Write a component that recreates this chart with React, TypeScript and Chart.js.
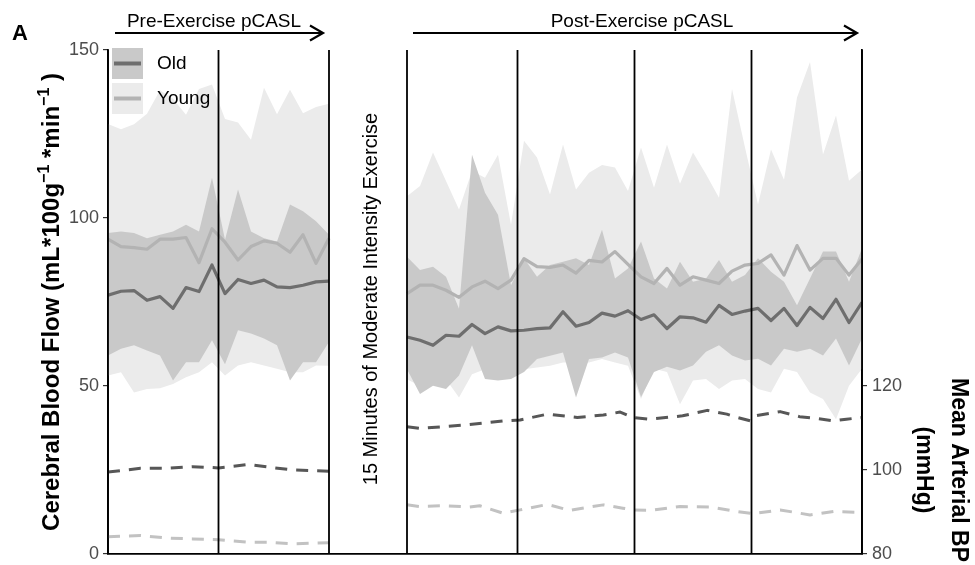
import { useEffect, useRef } from "react";
import { Chart, registerables } from "chart.js";

Chart.register(...registerables);

const FONT = '"Liberation Sans", Arial, Helvetica, sans-serif';

// ---- time axis (scan index) ----
const preTime = [0, 1, 2, 3, 4, 5, 6, 7, 8, 9, 10, 11, 12, 13, 14, 15, 16, 17];
const postTime = [23, 24, 25, 26, 27, 28, 29, 30, 31, 32, 33, 34, 35, 36, 37, 38, 39, 40, 41, 42, 43, 44, 45, 46, 47, 48, 49, 50, 51, 52, 53, 54, 55, 56, 57, 58];
const gapTime = 20;
const timeRange = [0, 58];
const sectionBounds = [0, 8.5, 17, 23, 31.5, 40.5, 49.5, 58];

// ---- tick labels ----
const cbfTicks = [0, 50, 100, 150];
const mapTicks = [80, 100, 120];
const cbfRange = [0, 150];
const mapRange = [80, 200];

// ---- CBF (mL/100g/min), pre-exercise ----
const youngMeanPre = [93.7, 91.5, 91.2, 90.7, 93.7, 93.7, 94.2, 86.7, 96.8, 92.8, 87.5, 91.5, 93.2, 92.5, 89.8, 95.0, 86.5, 94.0];
const youngHiPre = [128, 126.4, 127.9, 131, 138, 135.5, 130.7, 138.4, 139.7, 129.5, 128.4, 123.3, 138.8, 130.9, 138.2, 131.2, 133, 134];
const youngLoPre = [53.1, 54.1, 48.1, 49.1, 49.3, 50.6, 52.6, 54.1, 57.1, 53.1, 56.1, 57.1, 56.1, 55.1, 54.1, 54.1, 56.1, 56.0];
const oldMeanPre = [77.0, 78.2, 78.4, 75.5, 76.6, 73.1, 79.3, 78.1, 86.0, 77.5, 81.7, 80.5, 81.5, 79.5, 79.3, 80.0, 81.0, 81.2];
const oldHiPre = [95.5, 96.0, 95.5, 94.0, 95.0, 96.0, 98.0, 96.0, 112.0, 93.5, 108.5, 96.0, 94.0, 93.0, 104.0, 102.0, 99.0, 95.0];
const oldLoPre = [59.1, 61.1, 62.1, 60.6, 59.1, 51.6, 57.1, 57.1, 63.6, 56.5, 66.6, 65.6, 64.1, 62.1, 51.6, 57.1, 57.1, 63.1];

// ---- CBF, post-exercise ----
const youngMeanPost = [77.5, 80.0, 80.0, 78.5, 76.4, 79.5, 81.2, 79.0, 81.5, 87.9, 85.5, 85.3, 86.0, 83.6, 87.4, 86.9, 90.0, 86.2, 82.5, 80.5, 85.0, 80.0, 82.5, 81.5, 80.5, 84.2, 86.0, 86.5, 89.0, 83.0, 91.8, 84.5, 88.0, 88.0, 83.0, 87.8];
const youngHiPost = [106.5, 109.5, 119.5, 111.0, 102.5, 114.0, 112.0, 118.8, 98.0, 123.0, 118.0, 107.0, 121.9, 108.5, 113.5, 115.8, 115.0, 108.0, 121.0, 109.0, 121.9, 110.2, 119.5, 113.0, 106.0, 138.4, 121.0, 104.0, 120.4, 111.4, 135.9, 146.4, 118.9, 130.5, 111.1, 114.4];
const youngLoPost = [52, 50, 55, 52, 46.6, 53.5, 55, 53, 53, 55, 55.5, 56, 57, 57, 57, 58, 57, 56, 46.1, 55.1, 54.2, 44.6, 51.6, 52.1, 49.1, 51.6, 52.1, 49.1, 48.1, 55.1, 54.2, 48.1, 46.1, 40.1, 50.1, 55.1];
const oldMeanPost = [64.6, 63.6, 62.1, 65.1, 64.8, 68.3, 65.6, 67.6, 66.4, 66.6, 67.1, 67.3, 72.1, 67.8, 68.9, 71.7, 70.8, 72.4, 69.8, 71.2, 67.1, 70.6, 70.3, 69.0, 74.0, 71.3, 72.3, 73.1, 69.5, 73.1, 68.0, 73.4, 70.1, 75.8, 68.9, 74.9];
const oldHiPost = [88.5, 84.5, 85.5, 82.5, 73.0, 118.8, 107.5, 101.0, 80.0, 88.0, 82.5, 86.0, 87.0, 88.0, 86.0, 96.5, 82.0, 85.0, 93.0, 82.0, 79.0, 87.0, 81.0, 82.0, 87.5, 81.0, 83.0, 88.0, 84.0, 81.0, 74.0, 82.0, 90.0, 90.0, 81.0, 91.0];
const oldLoPost = [55, 47.6, 50.1, 49.1, 53.1, 62.1, 52.1, 51.6, 52.1, 54.2, 58, 59, 60, 46.6, 58, 58.5, 60, 58.5, 46.7, 54.2, 55.7, 54.6, 56.1, 60.2, 62.1, 59.1, 57.6, 58.1, 56.1, 61.1, 60.2, 61.1, 59.1, 64.1, 56.1, 64.1];

// ---- Mean arterial BP (mmHg) ----
const mapPreTime = [0, 2.5, 4.5, 6.5, 8.5, 10.8, 12.3, 14.2, 17];
const mapOldPre = [99.5, 100.4, 100.4, 100.8, 100.5, 101.3, 100.7, 100.0, 99.7];
const mapYoungPre = [84.1, 84.4, 83.8, 83.6, 83.4, 82.8, 82.8, 82.4, 82.7];
const mapOldPostTime = [23, 24, 25.8, 27.8, 30.4, 31.7, 33.8, 36.1, 38.1, 39.4, 40.4, 41.7, 44.2, 46.1, 47.6, 48.4, 49.4, 49.8, 51.7, 53.2, 54.5, 55.8, 56.8, 58];
const mapOldPost = [110.3, 109.9, 110.3, 110.8, 111.7, 111.9, 113.3, 112.5, 113.1, 113.8, 112.5, 112.1, 112.9, 114.2, 113.3, 112.5, 111.7, 112.9, 113.9, 112.7, 112.3, 111.7, 112.1, 112.5];
const mapYoungPostTime = [23, 24, 25.8, 27.8, 28.6, 30.4, 31.7, 33.8, 35.5, 38.1, 39.6, 40.4, 41.7, 44, 46.3, 48.4, 49.6, 51.7, 54, 55.8, 58];
const mapYoungPost = [91.7, 91.3, 91.5, 91.2, 91.5, 89.7, 90.5, 91.8, 90.4, 91.7, 90.9, 90.5, 90.4, 91.3, 91.2, 90.1, 89.6, 90.5, 89.3, 90.1, 89.9];

// ---- colours ----
const YOUNG_FILL = "#ebebeb";
const OLD_FILL = "#c9c9c9";
const YOUNG_LINE = "#b3b3b3";
const OLD_LINE = "#6e6e6e";
const YOUNG_MAP = "#c2c2c2";
const OLD_MAP = "#575757";
const CLEAR = "rgba(0,0,0,0)";

type P = { x: number; y: number | null };
const pts = (xs: number[], ys: number[]): P[] => xs.map((x, i) => ({ x, y: ys[i] }));
const joined = (xa: number[], ya: number[], xb: number[], yb: number[]): P[] => [
  ...pts(xa, ya),
  { x: gapTime, y: null },
  ...pts(xb, yb),
];

function bandPair(lo: P[], hi: P[], fill: string, order: number) {
  const base = { borderColor: CLEAR, borderWidth: 1, pointRadius: 0, pointHitRadius: 0, tension: 0, order };
  return [
    { ...base, data: lo, fill: false },
    { ...base, data: hi, fill: "-1", backgroundColor: fill },
  ];
}

function arrow(ctx: CanvasRenderingContext2D, x1: number, x2: number, y: number) {
  ctx.beginPath();
  ctx.moveTo(x1, y);
  ctx.lineTo(x2, y);
  ctx.moveTo(x2 - 13, y - 7.5);
  ctx.lineTo(x2, y);
  ctx.lineTo(x2 - 13, y + 7.5);
  ctx.stroke();
}

const decorPlugin = {
  id: "decor",
  afterDatasetsDraw(chart: any) {
    const { ctx, chartArea, scales } = chart;
    ctx.save();
    ctx.strokeStyle = "#000";
    ctx.lineWidth = 1.8;
    for (const b of sectionBounds) {
      const x = scales.x.getPixelForValue(b);
      ctx.beginPath();
      ctx.moveTo(x, chartArea.top);
      ctx.lineTo(x, chartArea.bottom);
      ctx.stroke();
    }
    ctx.restore();
  },
  afterDraw(chart: any) {
    const { ctx, scales } = chart;
    const xs = scales.x;
    ctx.save();
    ctx.fillStyle = "#000";
    ctx.strokeStyle = "#000";

    // panel letter
    ctx.font = `bold 22px ${FONT}`;
    ctx.textAlign = "left";
    ctx.textBaseline = "alphabetic";
    ctx.fillText("A", 12, 40);

    // phase headers with arrows
    const preL = xs.getPixelForValue(sectionBounds[0]) + 7;
    const preR = xs.getPixelForValue(sectionBounds[2]) - 6;
    const postL = xs.getPixelForValue(sectionBounds[3]) + 6;
    const postR = xs.getPixelForValue(sectionBounds[7]) - 5;
    ctx.lineWidth = 2.2;
    arrow(ctx, preL, preR, 33);
    arrow(ctx, postL, postR, 33);
    ctx.font = `19px ${FONT}`;
    ctx.textAlign = "center";
    ctx.fillText("Pre-Exercise pCASL", 214, 27);
    ctx.fillText("Post-Exercise pCASL", 642, 27);

    // exercise label
    ctx.save();
    ctx.translate(377, 299);
    ctx.rotate(-Math.PI / 2);
    ctx.font = `20px ${FONT}`;
    ctx.textAlign = "center";
    ctx.fillText("15 Minutes of Moderate Intensity Exercise", 0, 0);
    ctx.restore();

    // left axis title with superscripts
    const big = `bold 24px ${FONT}`;
    const small = `bold 16px ${FONT}`;
    const parts = [
      { t: "Cerebral Blood Flow (mL*100g", f: big, dy: 0 },
      { t: "\u22121", f: small, dy: -10 },
      { t: " *min", f: big, dy: 0 },
      { t: "\u22121", f: small, dy: -10 },
      { t: " )", f: big, dy: 0 },
    ];
    let total = 0;
    const widths = parts.map((p) => {
      ctx.font = p.f;
      const w = ctx.measureText(p.t).width;
      total += w;
      return w;
    });
    ctx.save();
    ctx.translate(59, 302);
    ctx.rotate(-Math.PI / 2);
    ctx.textAlign = "left";
    let cx = -total / 2;
    parts.forEach((p, i) => {
      ctx.font = p.f;
      ctx.fillText(p.t, cx, p.dy);
      cx += widths[i];
    });
    ctx.restore();

    // right axis titles
    const rt = `bold 23px ${FONT}`;
    ctx.save();
    ctx.translate(952, 470);
    ctx.rotate(Math.PI / 2);
    ctx.font = rt;
    ctx.textAlign = "center";
    ctx.fillText("Mean Arterial BP", 0, 0);
    ctx.restore();
    ctx.save();
    ctx.translate(917, 470);
    ctx.rotate(Math.PI / 2);
    ctx.font = rt;
    ctx.textAlign = "center";
    ctx.fillText("(mmHg)", 0, 0);
    ctx.restore();

    // legend
    const keys = [
      { label: "Old", fill: OLD_FILL, line: OLD_LINE, y: 48 },
      { label: "Young", fill: YOUNG_FILL, line: YOUNG_LINE, y: 83 },
    ];
    for (const k of keys) {
      ctx.fillStyle = k.fill;
      ctx.fillRect(112, k.y, 31, 31);
      ctx.strokeStyle = k.line;
      ctx.lineWidth = 4;
      ctx.beginPath();
      ctx.moveTo(114, k.y + 15.5);
      ctx.lineTo(141, k.y + 15.5);
      ctx.stroke();
      ctx.fillStyle = "#000";
      ctx.font = `19px ${FONT}`;
      ctx.textAlign = "left";
      ctx.textBaseline = "middle";
      ctx.fillText(k.label, 157, k.y + 16);
    }
    ctx.restore();
  },
};

const noPad = (s: any, w: number) => {
  s.width = w;
  s.paddingTop = 0;
  s.paddingBottom = 0;
};

export default function App() {
  const ref = useRef<HTMLCanvasElement | null>(null);

  useEffect(() => {
    if (!ref.current) return;
    const lineBase = { pointRadius: 0, pointHitRadius: 0, tension: 0, fill: false, borderWidth: 3.2, borderJoinStyle: "round" as const, spanGaps: false };
    const datasets: any[] = [
      ...bandPair(pts(preTime, youngLoPre), pts(preTime, youngHiPre), YOUNG_FILL, 5),
      ...bandPair(pts(postTime, youngLoPost), pts(postTime, youngHiPost), YOUNG_FILL, 5),
      ...bandPair(pts(preTime, oldLoPre), pts(preTime, oldHiPre), OLD_FILL, 4),
      ...bandPair(pts(postTime, oldLoPost), pts(postTime, oldHiPost), OLD_FILL, 4),
      {
        ...lineBase,
        data: joined(mapPreTime, mapYoungPre, mapYoungPostTime, mapYoungPost),
        yAxisID: "y2",
        borderColor: YOUNG_MAP,
        borderDash: [12, 9],
        borderWidth: 3,
        order: 2,
      },
      {
        ...lineBase,
        data: joined(mapPreTime, mapOldPre, mapOldPostTime, mapOldPost),
        yAxisID: "y2",
        borderColor: OLD_MAP,
        borderDash: [12, 9],
        borderWidth: 3,
        order: 2,
      },
      { ...lineBase, data: joined(preTime, youngMeanPre, postTime, youngMeanPost), borderColor: YOUNG_LINE, order: 1 },
      { ...lineBase, data: joined(preTime, oldMeanPre, postTime, oldMeanPost), borderColor: OLD_LINE, order: 0 },
    ];

    const tickFont = { family: FONT, size: 18 };
    const chart = new Chart(ref.current, {
      type: "line",
      data: { datasets },
      plugins: [decorPlugin],
      options: {
        animation: false,
        responsive: false,
        devicePixelRatio: 1,
        events: [],
        layout: { padding: { top: 50, left: 8, right: 0, bottom: 0 } },
        plugins: { legend: { display: false }, tooltip: { enabled: false } },
        scales: {
          x: {
            type: "linear",
            min: timeRange[0],
            max: timeRange[1],
            ticks: { display: false },
            grid: { display: false, drawTicks: false },
            border: { display: true, color: "#000", width: 1.8 },
            afterFit: (s: any) => {
              s.height = 11;
              s.paddingLeft = 0;
              s.paddingRight = 0;
            },
          },
          y: {
            type: "linear",
            position: "left",
            min: cbfRange[0],
            max: cbfRange[1],
            afterBuildTicks: (ax: any) => {
              ax.ticks = cbfTicks.map((v) => ({ value: v }));
            },
            ticks: { font: tickFont, color: "#4d4d4d", padding: 4 },
            grid: { display: true, drawOnChartArea: false, drawTicks: true, tickLength: 5, color: "#333", lineWidth: 1.2 },
            border: { display: true, color: "#000", width: 1.8 },
            afterFit: (s: any) => noPad(s, 100),
          },
          y2: {
            type: "linear",
            position: "right",
            min: mapRange[0],
            max: mapRange[1],
            afterBuildTicks: (ax: any) => {
              ax.ticks = mapTicks.map((v) => ({ value: v }));
            },
            ticks: { font: tickFont, color: "#4d4d4d", padding: 5 },
            grid: { display: true, drawOnChartArea: false, drawTicks: true, tickLength: 5, color: "#333", lineWidth: 1.2 },
            border: { display: true, color: "#000", width: 1.8 },
            afterFit: (s: any) => noPad(s, 113),
          },
        },
      } as any,
    });
    return () => chart.destroy();
  }, []);

  return (
    <div style={{ position: "absolute", left: 0, top: 0, width: 975, height: 565, background: "#fff" }}>
      <canvas ref={ref} width={975} height={565} style={{ display: "block" }} />
    </div>
  );
}
